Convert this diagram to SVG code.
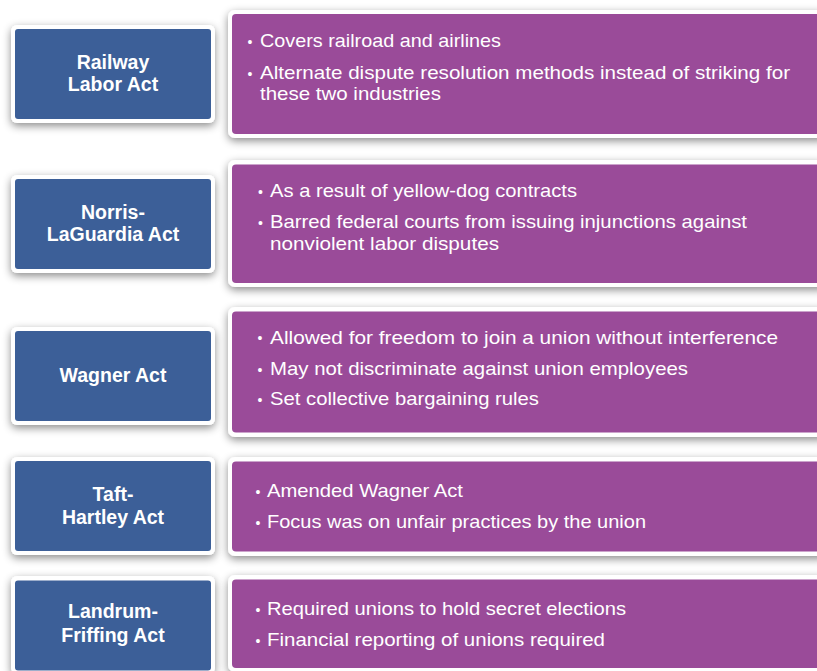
<svg xmlns="http://www.w3.org/2000/svg" width="817" height="671" viewBox="0 0 817 671">
<style>
.frame{fill:#ffffff;filter:url(#sh)}
.blue{fill:#3c5f98}
.purple{fill:#9a4b99}
.lbl{font-family:"Liberation Sans",Arial,sans-serif;font-weight:bold;font-size:19.5px;fill:#ffffff;text-anchor:middle}
.txt{font-family:"Liberation Sans",Arial,sans-serif;font-size:19px;fill:#ffffff}
.bul{font-family:"Liberation Sans",Arial,sans-serif;font-size:14px;fill:#ffffff;text-anchor:middle}
</style>
<defs>
<filter id="sh" x="-10%" y="-30%" width="120%" height="160%">
<feGaussianBlur in="SourceAlpha" stdDeviation="4"/>
<feOffset dy="3" result="b"/>
<feFlood flood-color="#000" flood-opacity="0.45"/>
<feComposite in2="b" operator="in" result="s"/>
<feMerge><feMergeNode in="s"/><feMergeNode in="SourceGraphic"/></feMerge>
</filter>
</defs>
<rect width="817" height="671" fill="#ffffff"/>

<g id="railway">
<rect class="frame" x="11" y="25" width="204" height="98" rx="6"/>
<rect class="blue" x="15" y="29" width="196" height="90" rx="3"/>
<text class="lbl" x="113" y="68.5">Railway</text>
<text class="lbl" x="113" y="91">Labor Act</text>
</g>
<g id="railway-info">
<rect class="frame" x="228" y="10" width="600" height="128" rx="7"/>
<rect class="purple" x="232" y="14" width="596" height="120" rx="4"/>
<text class="bul" x="250" y="46.5">•</text>
<text class="txt" x="260" y="47" textLength="241" lengthAdjust="spacingAndGlyphs">Covers railroad and airlines</text>
<text class="bul" x="250" y="79">•</text>
<text class="txt" x="260" y="79" textLength="530" lengthAdjust="spacingAndGlyphs">Alternate dispute resolution methods instead of striking for</text>
<text class="txt" x="260" y="100" textLength="181" lengthAdjust="spacingAndGlyphs">these two industries</text>
</g>

<g id="norris">
<rect class="frame" x="11" y="175" width="204" height="98" rx="6"/>
<rect class="blue" x="15" y="179" width="196" height="90" rx="3"/>
<text class="lbl" x="113" y="218.5">Norris-</text>
<text class="lbl" x="113" y="241">LaGuardia Act</text>
</g>
<g id="norris-info">
<rect class="frame" x="228" y="160" width="600" height="127" rx="7"/>
<rect class="purple" x="232" y="164.5" width="596" height="118.5" rx="4"/>
<text class="bul" x="260.5" y="196.5">•</text>
<text class="txt" x="270" y="197" textLength="307" lengthAdjust="spacingAndGlyphs">As a result of yellow-dog contracts</text>
<text class="bul" x="260.5" y="228">•</text>
<text class="txt" x="270" y="228" textLength="477" lengthAdjust="spacingAndGlyphs">Barred federal courts from issuing injunctions against</text>
<text class="txt" x="270" y="249.5" textLength="229" lengthAdjust="spacingAndGlyphs">nonviolent labor disputes</text>
</g>

<g id="wagner">
<rect class="frame" x="11" y="327" width="204" height="98" rx="6"/>
<rect class="blue" x="15" y="331" width="196" height="90" rx="3"/>
<text class="lbl" x="113" y="382">Wagner Act</text>
</g>
<g id="wagner-info">
<rect class="frame" x="228" y="307" width="600" height="130" rx="7"/>
<rect class="purple" x="232" y="311.5" width="596" height="121" rx="4"/>
<text class="bul" x="260" y="343.3">•</text>
<text class="txt" x="270" y="343.5" textLength="508" lengthAdjust="spacingAndGlyphs">Allowed for freedom to join a union without interference</text>
<text class="bul" x="260" y="375">•</text>
<text class="txt" x="270" y="375" textLength="418" lengthAdjust="spacingAndGlyphs">May not discriminate against union employees</text>
<text class="bul" x="260" y="405">•</text>
<text class="txt" x="270" y="405" textLength="269" lengthAdjust="spacingAndGlyphs">Set collective bargaining rules</text>
</g>

<g id="taft">
<rect class="frame" x="11" y="457" width="204" height="98" rx="6"/>
<rect class="blue" x="15" y="461" width="196" height="90" rx="3"/>
<text class="lbl" x="113" y="501">Taft-</text>
<text class="lbl" x="113" y="523.5">Hartley Act</text>
</g>
<g id="taft-info">
<rect class="frame" x="228" y="457" width="600" height="99" rx="7"/>
<rect class="purple" x="232" y="461.5" width="596" height="90" rx="4"/>
<text class="bul" x="258" y="496.7">•</text>
<text class="txt" x="267" y="497" textLength="196" lengthAdjust="spacingAndGlyphs">Amended Wagner Act</text>
<text class="bul" x="258" y="527.7">•</text>
<text class="txt" x="267" y="528" textLength="379" lengthAdjust="spacingAndGlyphs">Focus was on unfair practices by the union</text>
</g>

<g id="landrum">
<rect class="frame" x="11" y="576" width="204" height="98" rx="6"/>
<rect class="blue" x="15" y="580.5" width="196" height="90" rx="3"/>
<text class="lbl" x="113" y="618">Landrum-</text>
<text class="lbl" x="113" y="642">Friffing Act</text>
</g>
<g id="landrum-info">
<rect class="frame" x="228" y="575" width="600" height="97" rx="7"/>
<rect class="purple" x="232" y="579.5" width="596" height="88.5" rx="4"/>
<text class="bul" x="258" y="615">•</text>
<text class="txt" x="267" y="615" textLength="359" lengthAdjust="spacingAndGlyphs">Required unions to hold secret elections</text>
<text class="bul" x="258" y="645.7">•</text>
<text class="txt" x="267" y="646" textLength="338" lengthAdjust="spacingAndGlyphs">Financial reporting of unions required</text>
</g>

<g id="connectors"></g>
</svg>
